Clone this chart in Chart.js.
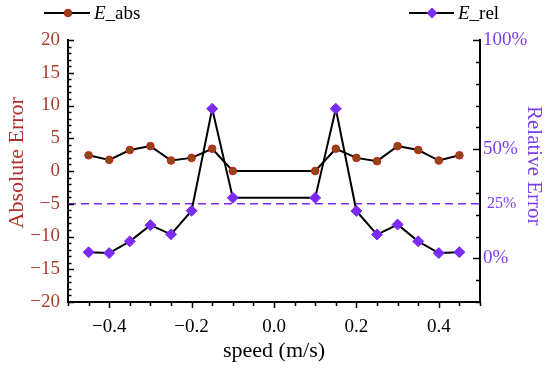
<!DOCTYPE html>
<html><head><meta charset="utf-8">
<script src="https://cdn.jsdelivr.net/npm/chart.js@4"></script>
<style>
html,body{margin:0;padding:0;background:#fff;}
#wrap{position:relative;width:550px;height:375px;overflow:hidden;}
#c{position:absolute;left:0;top:0;}
.leg{position:absolute;top:2px;height:22px;font-family:"Liberation Serif","Times New Roman",serif;font-size:19px;line-height:22px;color:#000;display:flex;align-items:center;white-space:nowrap;}
.leg svg{margin-right:4px;display:block;}
</style></head><body>
<div id="wrap">
<canvas id="c" width="550" height="375"></canvas>
<div class="leg" style="left:44px"><svg width="46" height="14"><line x1="0" y1="7" x2="46" y2="7" stroke="#000" stroke-width="2"/><circle cx="24" cy="7" r="3.8" fill="#8a4a18" stroke="#d01818" stroke-width="1"/></svg><span><i>E</i>_abs</span></div>
<div class="leg" style="left:409px"><svg width="45" height="14"><line x1="0" y1="7" x2="45" y2="7" stroke="#000" stroke-width="2"/><polygon points="23,1.5 28.5,7 23,12.5 17.5,7" fill="#7a2cf5"/></svg><span><i>E</i>_rel</span></div>
</div>
<script>
// ---- data ----
const speeds   = [-0.45,-0.4,-0.35,-0.3,-0.25,-0.2,-0.15,-0.1,0.1,0.15,0.2,0.25,0.3,0.35,0.4,0.45];
const absError = [2.4,1.7,3.2,3.8,1.6,2.0,3.4,0.0,0.0,3.4,2.0,1.5,3.8,3.2,1.6,2.4];
const relError = [2.8,2.4,7.8,15.2,11.0,21.8,68.5,27.7,27.7,68.5,21.7,10.9,15.5,7.8,2.4,2.8];
const relThreshold = 25;
const xTickValues = [-0.4,-0.2,0,0.2,0.4];
const leftTickValues = [-20,-15,-10,-5,0,5,10,15,20];
const rightTickValues = [0,25,50,100];

const FONT = '"Liberation Serif","Times New Roman",serif';
const PURPLE = '#7a2cf5';
const PURPLE_TXT = '#7b3ff0';
const RED_TXT = '#a8402c';
const RED_TITLE = '#b3302a';
const minus = v => (v < 0 ? '\u2212' + Math.abs(v) : String(v));

const tickMarks = {
  id: 'tickMarks',
  afterDraw(chart) {
    const {ctx, chartArea: a, scales} = chart;
    ctx.save();
    ctx.strokeStyle = '#000';
    ctx.lineWidth = 1.5;
    ctx.beginPath();
    for (let v = -20; v <= 20; v++) {
      const y = Math.round(scales.y.getPixelForValue(v)) + 0.5;
      const len = v % 5 === 0 ? 6 : 3.5;
      ctx.moveTo(a.left, y); ctx.lineTo(a.left + len, y);
    }
    for (let i = -10; i <= 10; i++) {
      const x = Math.round(scales.x.getPixelForValue(i * 0.05)) + 0.5;
      const len = i % 4 === 0 && Math.abs(i) < 10 ? 6 : 4;
      ctx.moveTo(x, a.bottom); ctx.lineTo(x, a.bottom + len);
    }
    for (let v = -20; v <= 100; v += 10) {
      const y = Math.round(scales.y1.getPixelForValue(v)) + 0.5;
      const len = v % 50 === 0 ? 7 : 4;
      ctx.moveTo(a.right, y); ctx.lineTo(a.right - len, y);
    }
    ctx.stroke();
    ctx.restore();
  }
};

new Chart(document.getElementById('c'), {
  type: 'line',
  data: {
    datasets: [
      {
        label: 'E_rel',
        data: speeds.map((s, i) => ({x: s, y: relError[i]})),
        yAxisID: 'y1',
        borderColor: '#000', borderWidth: 2,
        pointStyle: 'rectRot', pointRadius: 5.5, pointHoverRadius: 5.5,
        pointBackgroundColor: PURPLE, pointBorderColor: PURPLE, pointBorderWidth: 1,
        tension: 0, order: 1
      },
      {
        label: 'E_abs',
        data: speeds.map((s, i) => ({x: s, y: absError[i]})),
        yAxisID: 'y',
        borderColor: '#000', borderWidth: 2,
        pointStyle: 'circle', pointRadius: 3.8, pointHoverRadius: 3.8,
        pointBackgroundColor: '#8a4a18', pointBorderColor: '#d01818', pointBorderWidth: 1,
        tension: 0, order: 2
      },
      {
        label: 'threshold',
        data: [{x: -0.5, y: relThreshold}, {x: 0.5, y: relThreshold}],
        yAxisID: 'y1',
        borderColor: PURPLE, borderWidth: 1.5, borderDash: [8, 5],
        pointRadius: 0, pointHoverRadius: 0, order: 3
      }
    ]
  },
  options: {
    responsive: false, animation: false, devicePixelRatio: 1,
    layout: {padding: {top: 40, left: 0, right: 0, bottom: 0}},
    plugins: {legend: {display: false}, tooltip: {enabled: false}},
    events: [],
    scales: {
      x: {
        type: 'linear', position: 'bottom', min: -0.5, max: 0.5,
        afterBuildTicks: s => { s.ticks = xTickValues.map(v => ({value: v})); },
        afterFit: s => { s.height = 73; },
        grid: {display: false, drawTicks: false},
        border: {display: true, color: '#000', width: 2},
        ticks: {
          padding: 14, color: '#000', font: {family: FONT, size: 19},
          callback: v => (v < 0 ? '\u2212' : '') + Math.abs(v).toFixed(1)
        },
        title: {display: true, text: 'speed (m/s)', color: '#000', font: {family: FONT, size: 22}, padding: {top: 0, bottom: 11}}
      },
      y: {
        type: 'linear', position: 'left', min: -20, max: 20,
        afterBuildTicks: s => { s.ticks = leftTickValues.map(v => ({value: v})); },
        afterFit: s => { s.width = 68; },
        grid: {display: false, drawTicks: false},
        border: {display: true, color: '#000', width: 2},
        ticks: {padding: 8, color: RED_TXT, font: {family: FONT, size: 19}, callback: v => minus(v)},
        title: {display: true, text: '   Absolute Error', color: RED_TITLE, font: {family: FONT, size: 22}, padding: {top: 4, bottom: 0}}
      },
      y1: {
        type: 'linear', position: 'right', min: -20, max: 100,
        afterBuildTicks: s => { s.ticks = rightTickValues.map(v => ({value: v})); },
        afterFit: s => { s.width = 70; },
        grid: {display: false, drawTicks: false},
        border: {display: true, color: '#000', width: 2},
        ticks: {
          padding: 3, color: PURPLE_TXT,
          font: c => ({family: FONT, size: (c.tick && c.tick.value === relThreshold) ? 16 : 19}),
          callback: v => (v === relThreshold ? ' ' : '') + v + '%'
        },
        title: {display: true, text: 'Relative Error  ', color: PURPLE_TXT, font: {family: FONT, size: 21}, padding: {top: 4, bottom: 0}}
      }
    }
  },
  plugins: [tickMarks]
});
</script>
</body></html>
